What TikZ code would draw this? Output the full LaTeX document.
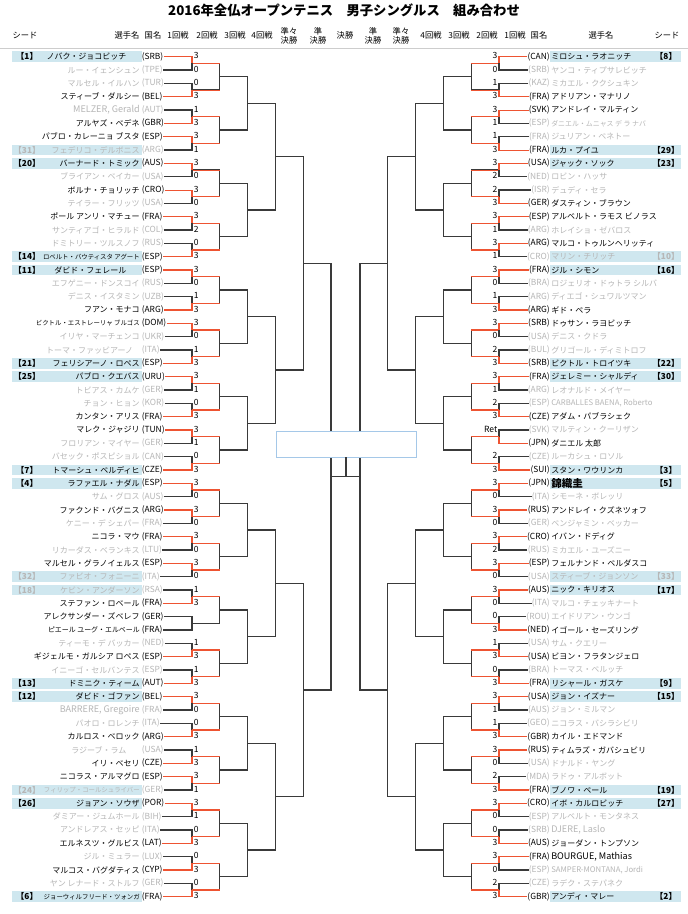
\documentclass[tikz,border=0pt]{standalone}
\usepackage{fontspec}
\setmainfont{Noto Sans CJK JP}
\definecolor{LineDk}{RGB}{58,58,58}
\definecolor{LineRd}{RGB}{238,84,50}
\definecolor{TxtGray}{RGB}{182,182,182}
\definecolor{SeedBand}{RGB}{207,231,239}
\definecolor{BoxLine}{RGB}{165,200,232}
\definecolor{SepLine}{RGB}{205,205,205}
\tikzset{
  brk/.style={draw=LineDk,line width=0.9pt},
  winline/.style={draw=LineRd,line width=0.8pt},
  lostline/.style={brk},
  tbdline/.style={brk},
  winnext/.style={winline},
  lostnext/.style={draw=none},
  tbdnext/.style={draw=none},
  wintxt/.style={text=black},
  losttxt/.style={text=TxtGray},
  tbdtxt/.style={text=black},
  pname/.style={inner sep=0pt,font=\fontsize{6}{7}\selectfont},
  nmtight/.style={font=\fontsize{4.8}{6}\selectfont},
  nmmid/.style={font=\fontsize{5.2}{6}\selectfont},
  nmlatin/.style={font=\fontsize{6.8}{7}\selectfont},
  nmlatinsm/.style={font=\fontsize{5.8}{7}\selectfont},
  nmbig/.style={font=\bfseries\fontsize{7.9}{8}\selectfont},
  pcty/.style={inner sep=0pt,font=\fontsize{6.3}{7}\selectfont},
  pseed/.style={inner sep=0pt,font=\bfseries\fontsize{6.2}{7}\selectfont},
  pscore/.style={inner sep=0pt,font=\fontsize{6.4}{7}\selectfont},
  band/.style={fill=SeedBand},
  hdr/.style={inner sep=0pt,align=center,font=\fontsize{6.2}{6.9}\selectfont},
  ttl/.style={inner sep=0pt,font=\bfseries\fontsize{10}{12}\selectfont},
  champ/.style={draw=BoxLine,line width=0.6pt,fill=white,minimum width=105pt,minimum height=19.5pt,inner sep=0pt},
}
\def\rowY{56.7}\def\rowH{13.333}
% left player: [name style]{row}{seed}{name}{country}{score}{win/lost/tbd}
\newcommand{\lp}[7][]{%
  \pgfmathsetmacro\yy{\rowY+\rowH*#2}%
  \pgfmathtruncatemacro\kk{#2/2}\pgfmathtruncatemacro\jj{#2/4}%
  \ifx&#3&\else\fill[band](12,\yy-5.3) rectangle (142,\yy+5.3);
    \node[pseed,#7txt] (Ls#2) at (27,\yy) {#3};\fi
  \node[pname,anchor=east,#7txt,#1] (Ln#2) at (140,\yy) {#4};
  \node[pcty,anchor=west,#7txt] (Lc#2) at (141.5,\yy) {#5};
  \node[pscore,anchor=west] (Lr#2) at (193.5,\yy-1) {#6};
  \draw[#7line] (Lc#2.east) -| (La1-\kk);
  \path[#7next] (La1-\kk) -- (La1-\kk -| La2-\jj);}
% right player
\newcommand{\rp}[7][]{%
  \pgfmathsetmacro\yy{\rowY+\rowH*#2}%
  \pgfmathtruncatemacro\kk{#2/2}\pgfmathtruncatemacro\jj{#2/4}%
  \ifx&#3&\else\fill[band](550,\yy-5.3) rectangle (681,\yy+5.3);
    \node[pseed,#7txt] (Rs#2) at (666,\yy) {#3};\fi
  \node[pname,anchor=west,#7txt,#1] (Rn#2) at (551,\yy) {#4};
  \node[pcty,anchor=east,#7txt] (Rc#2) at (550,\yy) {#5};
  \node[pscore,anchor=east] (Rr#2) at (497.5,\yy-1) {#6};
  \draw[#7line] (Rc#2.west) -| (Ra1-\kk);
  \path[#7next] (Ra1-\kk) -- (Ra1-\kk -| Ra2-\jj);}
\begin{document}
\begin{tikzpicture}[x=0.75pt,y=-0.75pt]
\path[fill=white,use as bounding box] (0,0) rectangle (688,914);
% title and header
\node[ttl] (Title) at (344,10) {2016年全仏オープンテニス　男子シングルス　組み合わせ};
\foreach \x/\t [count=\i] in {25/シード,127/選手名,153/国名,178/1回戦,207/2回戦,235/3回戦,262/4回戦,289/準々\\決勝,318/準\\決勝,345/決勝,373/準\\決勝,401/準々\\決勝,431/4回戦,459/3回戦,487/2回戦,515/1回戦,539/国名,601/選手名,667/シード}{
  \node[hdr] (hd\i) at (\x,35.5) {\t};}
\draw[SepLine,line width=0.5pt] (0,48) -- (688,48);
% bracket junctions
\foreach \lv in {1,...,6}{
  \pgfmathtruncatemacro\nk{64/2^\lv-1}
  \foreach \k in {0,...,\nk}{
    \pgfmathsetmacro\yy{\rowY+\rowH*(2^\lv*\k+(2^\lv-1)/2)}
    \pgfmathsetmacro\xl{192+27.8*(\lv-1)}
    \pgfmathsetmacro\xr{499-27.8*(\lv-1)}
    \coordinate (La\lv-\k) at (\xl,\yy);
    \coordinate (Ra\lv-\k) at (\xr,\yy);}}
\foreach \lv in {2,...,6}{
  \pgfmathtruncatemacro\pl{\lv-1}
  \pgfmathtruncatemacro\nk{64/2^\lv-1}
  \foreach \k in {0,...,\nk}{
    \pgfmathtruncatemacro\ia{2*\k}\pgfmathtruncatemacro\ib{2*\k+1}
    \draw[brk] (La\pl-\ia) -| (La\lv-\k) |- (La\pl-\ib);
    \draw[brk] (Ra\pl-\ia) -| (Ra\lv-\k) |- (Ra\pl-\ib);}}
% final
\draw[brk] (La6-0) -- (Ra6-0);
\node[champ] (Champ) at (346,444) {};
\draw[brk] (Champ.south) -- (Champ.south |- La6-0);
% left half
\lp{0}{【1】}{ノバク・ジョコビッチ\kern10pt}{(SRB)}{3}{win}
\lp{1}{}{ルー・イェンシュン}{(TPE)}{0}{lost}
\lp{2}{}{マルセル・イルハン}{(TUR)}{0}{lost}
\lp{3}{}{スティーブ・ダルシー}{(BEL)}{3}{win}
\lp[nmlatin]{4}{}{MELZER, Gerald}{(AUT)}{1}{lost}
\lp{5}{}{アルヤズ・ベデネ}{(GBR)}{3}{win}
\lp{6}{}{パブロ・カレーニョ ブスタ}{(ESP)}{3}{win}
\lp{7}{【31】}{フェデリコ・デルボニス}{(ARG)}{1}{lost}
\lp{8}{【20】}{バーナード・トミック}{(AUS)}{3}{win}
\lp{9}{}{ブライアン・ベイカー}{(USA)}{0}{lost}
\lp{10}{}{ボルナ・チョリッチ}{(CRO)}{3}{win}
\lp{11}{}{テイラー・フリッツ}{(USA)}{0}{lost}
\lp{12}{}{ポール アンリ・マチュー}{(FRA)}{3}{win}
\lp{13}{}{サンティアゴ・ヒラルド}{(COL)}{2}{lost}
\lp{14}{}{ドミトリー・ツルスノフ}{(RUS)}{0}{lost}
\lp[nmtight]{15}{【14】}{ロベルト・バウティスタ アグート}{(ESP)}{3}{win}
\lp{16}{【11】}{ダビド・フェレール\kern10pt}{(ESP)}{3}{win}
\lp{17}{}{エフゲニー・ドンスコイ}{(RUS)}{0}{lost}
\lp{18}{}{デニス・イスタミン}{(UZB)}{1}{lost}
\lp{19}{}{フアン・モナコ}{(ARG)}{3}{win}
\lp[nmtight]{20}{}{ビクトル・エストレーリャ ブルゴス}{(DOM)}{3}{win}
\lp{21}{}{イリヤ・マーチェンコ}{(UKR)}{0}{lost}
\lp{22}{}{トーマ・ファッビアーノ\kern5pt}{(ITA)}{1}{lost}
\lp{23}{【21】}{フェリシアーノ・ロペス}{(ESP)}{3}{win}
\lp{24}{【25】}{パブロ・クエバス}{(URU)}{3}{win}
\lp{25}{}{トビアス・カムケ}{(GER)}{1}{lost}
\lp{26}{}{チョン・ヒョン}{(KOR)}{0}{lost}
\lp{27}{}{カンタン・アリス}{(FRA)}{3}{win}
\lp{28}{}{マレク・ジャジリ}{(TUN)}{3}{win}
\lp{29}{}{フロリアン・マイヤー}{(GER)}{1}{lost}
\lp{30}{}{バセック・ポスピショル}{(CAN)}{0}{lost}
\lp{31}{【7】}{トマーシュ・ベルディヒ}{(CZE)}{3}{win}
\lp{32}{【4】}{ラファエル・ナダル}{(ESP)}{3}{win}
\lp{33}{}{サム・グロス}{(AUS)}{0}{lost}
\lp{34}{}{ファクンド・バグニス}{(ARG)}{3}{win}
\lp{35}{}{ケニー・デ シェパー}{(FRA)}{0}{lost}
\lp{36}{}{ニコラ・マウ}{(FRA)}{3}{win}
\lp{37}{}{リカーダス・ベランキス}{(LTU)}{0}{lost}
\lp{38}{}{マルセル・グラノイェルス}{(ESP)}{3}{win}
\lp{39}{【32】}{ファビオ・フォニーニ}{(ITA)}{0}{lost}
\lp{40}{【18】}{ケビン・アンダーソン}{(RSA)}{1}{lost}
\lp{41}{}{ステファン・ロベール}{(FRA)}{3}{win}
\lp{42}{}{アレクサンダー・ズベレフ}{(GER)}{}{tbd}
\lp[nmmid]{43}{}{ピエール ユーグ・エルベール}{(FRA)}{}{tbd}
\lp{44}{}{ティーモ・デ バッカー}{(NED)}{1}{lost}
\lp{45}{}{ギジェルモ・ガルシア ロペス}{(ESP)}{3}{win}
\lp{46}{}{イニーゴ・セルバンテス}{(ESP)}{1}{lost}
\lp{47}{【13】}{ドミニク・ティーム}{(AUT)}{3}{win}
\lp{48}{【12】}{ダビド・ゴファン}{(BEL)}{3}{win}
\lp[nmlatin]{49}{}{BARRERE, Gregoire}{(FRA)}{0}{lost}
\lp{50}{}{パオロ・ロレンチ}{(ITA)}{0}{lost}
\lp{51}{}{カルロス・ベロック}{(ARG)}{3}{win}
\lp{52}{}{ラジーブ・ラム\kern10pt}{(USA)}{1}{lost}
\lp{53}{}{イリ・ベセリ}{(CZE)}{3}{win}
\lp{54}{}{ニコラス・アルマグロ}{(ESP)}{3}{win}
\lp[nmtight]{55}{【24】}{フィリップ・コールシュライバー}{(GER)}{1}{lost}
\lp{56}{【26】}{ジョアン・ソウザ}{(POR)}{3}{win}
\lp{57}{}{ダミアー・ジュムホール}{(BIH)}{1}{lost}
\lp{58}{}{アンドレアス・セッピ}{(ITA)}{0}{lost}
\lp{59}{}{エルネスツ・グルビス}{(LAT)}{3}{win}
\lp{60}{}{ジル・ミュラー}{(LUX)}{0}{lost}
\lp{61}{}{マルコス・バグダティス}{(CYP)}{3}{win}
\lp{62}{}{ヤン レナード・ストルフ}{(GER)}{0}{lost}
\lp[nmtight]{63}{【6】}{ジョーウィルフリード・ツォンガ}{(FRA)}{3}{win}
% right half
\rp{0}{【8】}{ミロシュ・ラオニッチ}{(CAN)}{3}{win}
\rp{1}{}{ヤンコ・ティプサレビッチ}{(SRB)}{0}{lost}
\rp{2}{}{ミカエル・ククシュキン}{(KAZ)}{1}{lost}
\rp{3}{}{アドリアン・マナリノ}{(FRA)}{3}{win}
\rp{4}{}{アンドレイ・マルティン}{(SVK)}{3}{win}
\rp[nmmid]{5}{}{ダニエル・ムニャス デ ラ ナバ}{(ESP)}{1}{lost}
\rp{6}{}{ジュリアン・ベネトー}{(FRA)}{1}{lost}
\rp{7}{【29】}{ルカ・プイユ}{(FRA)}{3}{win}
\rp{8}{【23】}{ジャック・ソック}{(USA)}{3}{win}
\rp{9}{}{ロビン・ハッサ}{(NED)}{2}{lost}
\rp{10}{}{デュディ・セラ}{(ISR)}{2}{lost}
\rp{11}{}{ダスティン・ブラウン}{(GER)}{3}{win}
\rp{12}{}{アルベルト・ラモス ビノラス}{(ESP)}{3}{win}
\rp{13}{}{ホレイショ・ゼバロス}{(ARG)}{1}{lost}
\rp{14}{}{マルコ・トゥルンヘリッティ}{(ARG)}{3}{win}
\rp{15}{【10】}{マリン・チリッチ}{(CRO)}{1}{lost}
\rp{16}{【16】}{ジル・シモン}{(FRA)}{3}{win}
\rp{17}{}{ロジェリオ・ドゥトラ シルバ}{(BRA)}{0}{lost}
\rp{18}{}{ディエゴ・シュワルツマン}{(ARG)}{1}{lost}
\rp{19}{}{ギド・ペラ}{(ARG)}{3}{win}
\rp{20}{}{ドゥサン・ラヨビッチ}{(SRB)}{3}{win}
\rp{21}{}{デニス・クドラ}{(USA)}{0}{lost}
\rp{22}{}{グリゴール・ディミトロフ}{(BUL)}{2}{lost}
\rp{23}{【22】}{ビクトル・トロイツキ}{(SRB)}{3}{win}
\rp{24}{【30】}{ジェレミー・シャルディ}{(FRA)}{3}{win}
\rp{25}{}{レオナルド・メイヤー}{(ARG)}{1}{lost}
\rp[nmlatinsm]{26}{}{CARBALLES BAENA, Roberto}{(ESP)}{2}{lost}
\rp{27}{}{アダム・パブラシェク}{(CZE)}{3}{win}
\rp{28}{}{マルティン・クーリザン}{(SVK)}{Ret}{lost}
\rp{29}{}{ダニエル 太郎}{(JPN)}{}{win}
\rp{30}{}{ルーカシュ・ロソル}{(CZE)}{2}{lost}
\rp{31}{【3】}{スタン・ワウリンカ}{(SUI)}{3}{win}
\rp[nmbig]{32}{【5】}{錦織圭}{(JPN)}{3}{win}
\rp{33}{}{シモーネ・ボレッリ}{(ITA)}{0}{lost}
\rp{34}{}{アンドレイ・クズネツォフ}{(RUS)}{3}{win}
\rp{35}{}{ベンジャミン・ベッカー}{(GER)}{0}{lost}
\rp{36}{}{イバン・ドディグ}{(CRO)}{3}{win}
\rp{37}{}{ミカエル・ユーズニー}{(RUS)}{2}{lost}
\rp{38}{}{フェルナンド・ベルダスコ}{(ESP)}{3}{win}
\rp{39}{【33】}{スティーブ・ジョンソン}{(USA)}{0}{lost}
\rp{40}{【17】}{ニック・キリオス}{(AUS)}{3}{win}
\rp{41}{}{マルコ・チェッキナート}{(ITA)}{0}{lost}
\rp{42}{}{エイドリアン・ウンゴ}{(ROU)}{0}{lost}
\rp{43}{}{イゴール・セーズリング}{(NED)}{3}{win}
\rp{44}{}{サム・クエリー}{(USA)}{1}{lost}
\rp{45}{}{ビヨン・フラタンジェロ}{(USA)}{3}{win}
\rp{46}{}{トーマス・ベルッチ}{(BRA)}{0}{lost}
\rp{47}{【9】}{リシャール・ガスケ}{(FRA)}{3}{win}
\rp{48}{【15】}{ジョン・イズナー}{(USA)}{3}{win}
\rp{49}{}{ジョン・ミルマン}{(AUS)}{1}{lost}
\rp{50}{}{ニコラス・バシラシビリ}{(GEO)}{1}{lost}
\rp{51}{}{カイル・エドマンド}{(GBR)}{3}{win}
\rp{52}{}{ティムラズ・ガバシュビリ}{(RUS)}{3}{win}
\rp{53}{}{ドナルド・ヤング}{(USA)}{0}{lost}
\rp{54}{}{ラドゥ・アルボット}{(MDA)}{2}{lost}
\rp{55}{【19】}{ブノワ・ペール}{(FRA)}{3}{win}
\rp{56}{【27】}{イボ・カルロビッチ}{(CRO)}{3}{win}
\rp{57}{}{アルベルト・モンタネス}{(ESP)}{0}{lost}
\rp[nmlatin]{58}{}{DJERE, Laslo}{(SRB)}{0}{lost}
\rp{59}{}{ジョーダン・トンプソン}{(AUS)}{3}{win}
\rp[nmlatin]{60}{}{BOURGUE, Mathias}{(FRA)}{3}{win}
\rp[nmlatinsm]{61}{}{SAMPER-MONTANA, Jordi}{(ESP)}{0}{lost}
\rp{62}{}{ラデク・ステパネク}{(CZE)}{2}{lost}
\rp{63}{【2】}{アンディ・マレー}{(GBR)}{3}{win}
\end{tikzpicture}
\end{document}
